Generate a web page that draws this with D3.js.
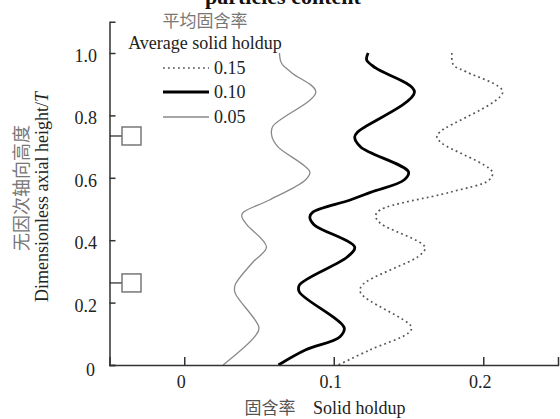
<!DOCTYPE html>
<html>
<head>
<meta charset="utf-8">
<script src="https://cdn.jsdelivr.net/npm/d3@7"></script>
<style>
  body { margin: 0; background: #fff; }
  text { font-family: "Liberation Serif", "DejaVu Serif", serif; }
  .cjk { font-family: "Noto Sans CJK SC", sans-serif; }
</style>
</head>
<body>
<div id="chart"></div>
<script>
// [solid holdup, dimensionless height]
const holdup005 = [
  [0.0637, 1.0], [0.065, 0.968], [0.072, 0.936], [0.088, 0.875], [0.059, 0.763],
  [0.0587, 0.731], [0.0627, 0.699], [0.084, 0.619], [0.081, 0.593], [0.057, 0.529],
  [0.039, 0.487], [0.0386, 0.474], [0.042, 0.449], [0.055, 0.378], [0.046, 0.33],
  [0.034, 0.256], [0.034, 0.231], [0.05, 0.119], [0.047, 0.09], [0.026, 0.0]
];
const holdup010 = [
  [0.123, 1.0], [0.122, 0.978], [0.128, 0.952], [0.154, 0.875], [0.116, 0.747],
  [0.114, 0.731], [0.118, 0.699], [0.15, 0.619], [0.147, 0.593], [0.125, 0.554],
  [0.111, 0.529], [0.086, 0.49], [0.084, 0.474], [0.087, 0.449], [0.114, 0.378],
  [0.109, 0.346], [0.077, 0.256], [0.077, 0.234], [0.107, 0.119], [0.104, 0.09],
  [0.081, 0.048], [0.063, 0.0]
];
const holdup015 = [
  [0.179, 1.0], [0.18, 0.962], [0.189, 0.939], [0.213, 0.875], [0.171, 0.747],
  [0.169, 0.731], [0.172, 0.712], [0.206, 0.619], [0.204, 0.593], [0.178, 0.554],
  [0.131, 0.497], [0.128, 0.478], [0.131, 0.455], [0.161, 0.378], [0.158, 0.353],
  [0.119, 0.256], [0.118, 0.231], [0.152, 0.122], [0.15, 0.103], [0.124, 0.048],
  [0.103, 0.0]
];
const legendLabels = ["0.15", "0.10", "0.05"];
const xTicks = [0, 0.1, 0.2];
const yTicks = [0, 0.2, 0.4, 0.6, 0.8, 1.0];
const probeHeights = [0.734, 0.263];

const width = 560;
const height = 419;

const svg = d3
  .select("#chart")
  .append("svg")
  .attr("width", width)
  .attr("height", height);

const xScale = d3.scaleLinear().domain([-0.05, 0.25]).range([109.5, 558]);
const yScale = d3.scaleLinear().domain([0, 1.1]).range([365, 21.8]);

const series = [
  { data: holdup015, stroke: "#555", width: 1.7, dash: "1.8,3.2" },
  { data: holdup010, stroke: "#000", width: 2.8, dash: null },
  { data: holdup005, stroke: "#888", width: 1.3, dash: null }
];

const line = d3
  .line()
  .x((d) => xScale(d[0]))
  .y((d) => yScale(d[1]))
  .curve(d3.curveCatmullRom.alpha(0.5));

series.forEach((s) => {
  svg
    .append("path")
    .datum(s.data)
    .attr("fill", "none")
    .attr("stroke", s.stroke)
    .attr("stroke-width", s.width)
    .attr("stroke-dasharray", s.dash)
    .attr("stroke-linejoin", "round")
    .attr("d", line);
});

// axes
const x0 = xScale.range()[0];
const y0 = yScale.range()[0];

const yAxis = svg
  .append("g")
  .attr("transform", `translate(${x0},0)`)
  .call(d3.axisRight(yScale).tickValues(yTicks).tickSize(6).tickFormat(""));
const xAxis = svg
  .append("g")
  .attr("transform", `translate(0,${y0})`)
  .call(d3.axisTop(xScale).tickValues(xTicks).tickSize(8).tickFormat(""));

[yAxis, xAxis].forEach((g) => {
  g.select(".domain").attr("stroke", "#333").attr("stroke-width", 1.5);
  g.selectAll(".tick line").attr("stroke", "#333").attr("stroke-width", 1.5);
});

svg
  .selectAll(".ylab")
  .data(yTicks)
  .enter()
  .append("text")
  .attr("class", "ylab")
  .attr("x", (d) => (d === 0 ? 95 : 97))
  .attr("y", (d) => yScale(d) + (d === 0 ? 11 : 9))
  .attr("text-anchor", "end")
  .style("font-size", "18px")
  .style("fill", "#222")
  .text((d) => (d === 0 ? "0" : d.toFixed(1)));

svg
  .selectAll(".xlab")
  .data(xTicks)
  .enter()
  .append("text")
  .attr("class", "xlab")
  .attr("x", (d) => xScale(d) - 3)
  .attr("y", 388)
  .attr("text-anchor", "middle")
  .style("font-size", "18px")
  .style("fill", "#222")
  .text((d) => (d === 0 ? "0" : d.toFixed(1)));

// probes
probeHeights.forEach((h) => {
  svg
    .append("line")
    .attr("x1", x0)
    .attr("x2", 122)
    .attr("y1", yScale(h))
    .attr("y2", yScale(h))
    .attr("stroke", "#333")
    .attr("stroke-width", 1.3);
  svg
    .append("rect")
    .attr("x", 122)
    .attr("y", yScale(h) - 9)
    .attr("width", 19)
    .attr("height", 18)
    .attr("fill", "#fff")
    .attr("stroke", "#777")
    .attr("stroke-width", 1.5);
});

// title fragment at top (cut off in the original too)
svg
  .append("text")
  .attr("x", 205)
  .attr("y", 4)
  .style("font-size", "22px")
  .style("font-weight", "bold")
  .style("fill", "#111")
  .text("particles content");

// legend
svg
  .append("text")
  .attr("class", "cjk")
  .attr("x", 205)
  .attr("y", 27)
  .attr("text-anchor", "middle")
  .style("font-size", "17px")
  .style("fill", "#777")
  .text("平均固含率");

svg
  .append("text")
  .attr("x", 205)
  .attr("y", 49)
  .attr("text-anchor", "middle")
  .style("font-size", "18px")
  .style("fill", "#222")
  .text("Average solid holdup");

const legendY = [68, 92, 117];
legendLabels.forEach((lab, i) => {
  const s = series[i];
  svg
    .append("line")
    .attr("x1", 163)
    .attr("x2", 209)
    .attr("y1", legendY[i])
    .attr("y2", legendY[i])
    .attr("stroke", s.stroke)
    .attr("stroke-width", s.width)
    .attr("stroke-dasharray", s.dash);
  svg
    .append("text")
    .attr("x", 214)
    .attr("y", legendY[i] + 6)
    .style("font-size", "18px")
    .style("fill", "#222")
    .text(lab);
});

// axis titles
svg
  .append("text")
  .attr("class", "cjk")
  .attr("x", 270)
  .attr("y", 414)
  .attr("text-anchor", "middle")
  .style("font-size", "17px")
  .style("fill", "#555")
  .text("固含率");

svg
  .append("text")
  .attr("x", 313)
  .attr("y", 414)
  .style("font-size", "18px")
  .style("fill", "#222")
  .text("Solid holdup");

svg
  .append("text")
  .attr("class", "cjk")
  .attr("transform", "translate(28,188) rotate(-90)")
  .attr("text-anchor", "middle")
  .style("font-size", "18px")
  .style("fill", "#777")
  .text("无因次轴向高度");

const yTitle = svg
  .append("text")
  .attr("transform", "translate(48,197) rotate(-90)")
  .attr("text-anchor", "middle")
  .style("font-size", "18px")
  .style("fill", "#222");
yTitle.append("tspan").text("Dimensionless axial height/");
yTitle.append("tspan").style("font-style", "italic").text("T");
</script>
</body>
</html>
